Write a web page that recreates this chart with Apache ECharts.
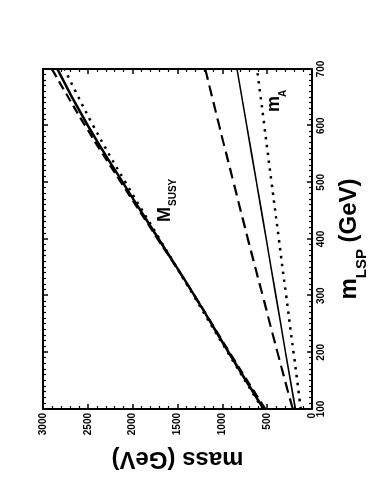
<!DOCTYPE html>
<html><head><meta charset="utf-8">
<script src="https://cdn.jsdelivr.net/npm/echarts@6/dist/echarts.min.js"></script>
<style>
html,body{margin:0;padding:0;background:#fff;overflow:hidden;width:374px;height:500px}
#wrap{position:absolute;left:0;top:0;width:500px;height:374px;transform-origin:0 0;transform:translate(0px,500px) rotate(-90deg);}
</style></head><body><div id="wrap"></div>
<script>
// m_LSP values (GeV)
const mLSP = [100, 200, 300, 400, 500, 600, 700];
// upper group: M_SUSY
const msusySolid  = [540, 930, 1310, 1710, 2110, 2500, 2840];
const msusyDashed = [520, 920, 1310, 1720, 2130, 2530, 2900];
const msusyDotted = [550, 940, 1320, 1700, 2080, 2440, 2760];
// lower group
const lowDashed = [215, 385, 550, 715, 875, 1035, 1190];
const lowSolid  = [185, 295, 403, 511, 619, 728, 836];
const mADotted  = [125, 206, 288, 370, 451, 532, 613];
// ticks
const xTicks = {min: 100, max: 700, interval: 100};
const yTicks = {min: 0, max: 3000, interval: 500};

const FONT = '"Liberation Sans", Arial, sans-serif';
const NARROW = '"Liberation Sans Narrow", "Liberation Sans", Arial, sans-serif';
const pair = (ys) => mLSP.map((x, i) => [x, ys[i]]);

function axisCommon(showLabel, minorSplit) {
  return {
    axisLine: {show: true, onZero: false, lineStyle: {color: '#000', width: 2}},
    axisTick: {show: true, inside: true, length: 5, lineStyle: {color: '#000', width: 1.5}},
    minorTick: {show: true, splitNumber: minorSplit, length: 3, lineStyle: {color: '#000', width: 1.2}},
    splitLine: {show: false},
    axisLabel: {show: showLabel, color: '#000', fontFamily: NARROW, fontWeight: 'bold', fontSize: 10, margin: 4,
      formatter: (v) => String(v)}
  };
}

const chart = echarts.init(document.getElementById('wrap'), null, {renderer: 'canvas', width: 500, height: 374});
const line = (ys, type, w) => ({
  type: 'line', data: pair(ys), showSymbol: false, smooth: true,
  lineStyle: {color: '#000', width: w, type: type, cap: 'butt'},
  xAxisIndex: 0, yAxisIndex: 0, silent: true, animation: false
});

chart.setOption({
  animation: false,
  grid: {left: 91, right: 69, top: 43, bottom: 62, containLabel: false, outerBoundsMode: 'none'},
  xAxis: [
    Object.assign({type: 'value', position: 'bottom', min: xTicks.min, max: xTicks.max, interval: xTicks.interval,
      name: 'm{s|LSP} (GeV)', nameLocation: 'middle', nameGap: 17,
      nameTextStyle: {color: '#000', fontFamily: FONT, fontWeight: 'bold', fontSize: 24,
        rich: {s: {fontFamily: FONT, fontWeight: 'bold', fontSize: 15, verticalAlign: 'bottom', lineHeight: 40}}}},
      axisCommon(true, 10)),
    Object.assign({type: 'value', position: 'top', min: xTicks.min, max: xTicks.max, interval: xTicks.interval},
      axisCommon(false, 10))
  ],
  yAxis: [
    Object.assign({type: 'value', position: 'left', min: yTicks.min, max: yTicks.max, interval: yTicks.interval,
      name: 'mass (GeV)', nameLocation: 'middle', nameGap: 38,
      nameTextStyle: {color: '#000', fontFamily: FONT, fontWeight: 'bold', fontSize: 24}},
      axisCommon(true, 5)),
    Object.assign({type: 'value', position: 'right', min: yTicks.min, max: yTicks.max, interval: yTicks.interval},
      axisCommon(false, 5))
  ],
  series: [
    line(msusyDotted, [2.5, 5.5], 2.5),
    line(msusyDashed, [9, 5], 2.2),
    line(msusySolid, 'solid', 2.5),
    line(lowDashed, [11, 6], 2.2),
    line(lowSolid, 'solid', 1.6),
    line(mADotted, [2.5, 5.5], 2.5)
  ]
});

// text annotations anchored to data coordinates
const pM = chart.convertToPixel({xAxisIndex: 0, yAxisIndex: 0}, [430, 1535]);
const pA = chart.convertToPixel({xAxisIndex: 0, yAxisIndex: 0}, [624, 320]);
chart.setOption({
  graphic: [
    {type: 'text', x: pM[0], y: pM[1], style: {text: 'M', font: 'bold 18px ' + FONT, fill: '#000', textVerticalAlign: 'bottom'}},
    {type: 'text', x: pM[0] + 16, y: pM[1] + 4, style: {text: 'SUSY', font: 'bold 10px ' + FONT, fill: '#000', textVerticalAlign: 'bottom'}},
    {type: 'text', x: pA[0], y: pA[1], style: {text: 'm', font: 'bold 18px ' + FONT, fill: '#000', textVerticalAlign: 'bottom'}},
    {type: 'text', x: pA[0] + 15, y: pA[1] + 5, style: {text: 'A', font: 'bold 10px ' + FONT, fill: '#000', textVerticalAlign: 'bottom'}}
  ]
});
</script></body></html>
